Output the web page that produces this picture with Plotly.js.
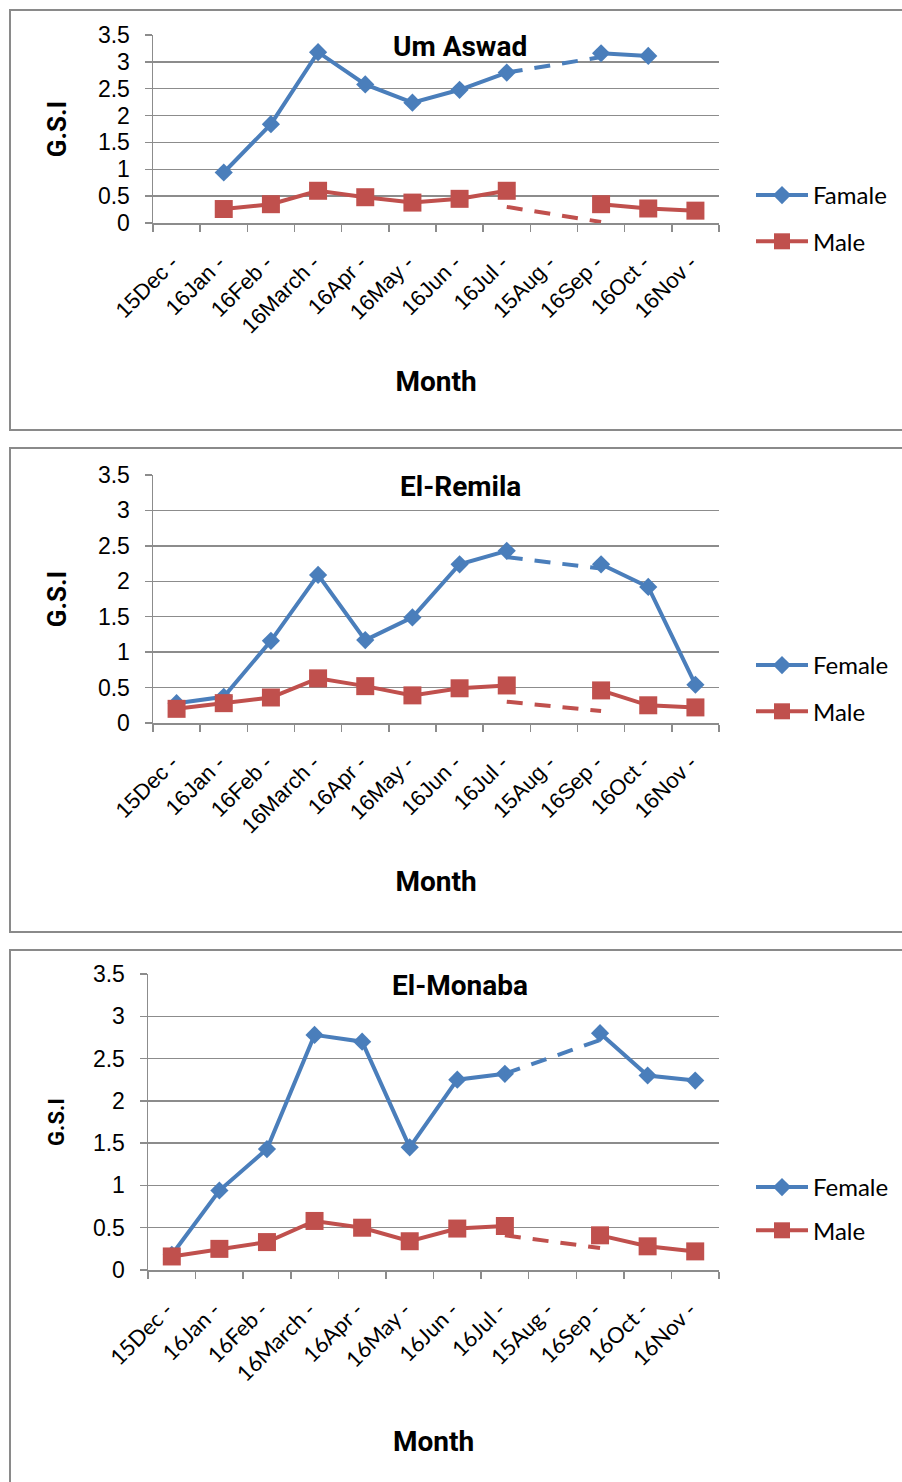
<!DOCTYPE html>
<html>
<head>
<meta charset="utf-8">
<script src="https://cdn.plot.ly/plotly-3.0.1.min.js"></script>
<style>
  html, body { margin:0; padding:0; background:#fff; width:902px; height:1482px; overflow:hidden; position:relative; }
  .box { position:absolute; left:9px; width:1000px; border:2px solid #8a8a8a; border-right:none; box-sizing:border-box; }
  .plot { position:absolute; left:0; width:902px; }
</style>
</head>
<body>
<div class="box" style="top:9px;height:422px;"></div>
<div class="box" style="top:447px;height:486px;"></div>
<div class="box" style="top:949px;height:600px;"></div>
<div id="p1" class="plot" style="top:0px;height:440px;"></div>
<div id="p2" class="plot" style="top:440px;height:500px;"></div>
<div id="p3" class="plot" style="top:940px;height:542px;"></div>
<script>
// ---- data ----
const months = ["15Dec -","16Jan -","16Feb -","16March -","16Apr -","16May -","16Jun -","16Jul -","15Aug -","16Sep -","16Oct -","16Nov -"];
const gapMonths = ["16Jul -","16Sep -"];

const titles = ["Um Aswad","El-Remila","El-Monaba"];
const femaleNames = ["Famale","Female","Female"];
const maleName = "Male";

const umAswadFemale = [null, 0.94, 1.84, 3.18, 2.58, 2.24, 2.48, 2.80, null, 3.16, 3.11, null];
const umAswadMale   = [null, 0.26, 0.35, 0.60, 0.48, 0.38, 0.45, 0.60, null, 0.35, 0.27, 0.23];
const umAswadFemaleGap = [2.80, 3.09];
const umAswadMaleGap   = [0.30, 0.02];

const elRemilaFemale = [0.28, 0.37, 1.16, 2.09, 1.17, 1.49, 2.24, 2.43, null, 2.24, 1.92, 0.54];
const elRemilaMale   = [0.20, 0.28, 0.36, 0.63, 0.52, 0.39, 0.49, 0.53, null, 0.46, 0.25, 0.22];
const elRemilaFemaleGap = [2.34, 2.18];
const elRemilaMaleGap   = [0.30, 0.17];

const elMonabaFemale = [0.18, 0.94, 1.43, 2.78, 2.70, 1.45, 2.25, 2.32, null, 2.80, 2.30, 2.24];
const elMonabaMale   = [0.16, 0.25, 0.33, 0.58, 0.50, 0.34, 0.49, 0.52, null, 0.41, 0.28, 0.22];
const elMonabaFemaleGap = [2.32, 2.72];
const elMonabaMaleGap   = [0.41, 0.26];

// ---- style ----
const BLUE = "#4a7ebb";
const RED = "#c0504d";
const GRID = "#8c8c8c";
const BOLDFONT = "Roboto, Arial, sans-serif";

function buildPanel(divId, cfg) {
  const traces = [
    {x: months, y: cfg.female, name: cfg.femaleName, type: "scatter", mode: "lines+markers",
     line: {color: BLUE, width: 4}, marker: {symbol: "diamond", size: 14, color: BLUE},
     connectgaps: false, legendgroup: "f"},
    {x: months, y: cfg.male, name: maleName, type: "scatter", mode: "lines+markers",
     line: {color: RED, width: 4}, marker: {symbol: "square", size: 18, color: RED},
     connectgaps: false, legendgroup: "m"},
    {x: gapMonths, y: cfg.femaleGap, type: "scatter", mode: "lines", showlegend: false,
     line: {color: BLUE, width: 4, dash: "16px,12px"}, hoverinfo: "skip"},
    {x: gapMonths, y: cfg.maleGap, type: "scatter", mode: "lines", showlegend: false,
     line: {color: RED, width: 4, dash: "16px,12px"}, hoverinfo: "skip"}
  ];
  const H = cfg.height;
  const pw = 902 - cfg.l - cfg.r;
  const cx = (460 - cfg.l) / pw;
  const half = cfg.titleHalf / pw;
  const layout = {
    width: 902, height: H,
    margin: {l: cfg.l, r: cfg.r, t: cfg.t, b: cfg.b, pad: 0},
    paper_bgcolor: "rgba(0,0,0,0)", plot_bgcolor: "rgba(0,0,0,0)",
    showlegend: true,
    legend: {
      xref: "container", yref: "container",
      x: 751/902, y: 1 - cfg.legTop/H, xanchor: "left", yanchor: "top",
      font: {family: "Lato, sans-serif", size: 24, color: "#000"},
      bgcolor: "rgba(0,0,0,0)", borderwidth: 0,
      traceorder: "grouped", tracegroupgap: cfg.legGap, itemwidth: 52
    },
    shapes: [{
      type: "rect", xref: "paper", yref: "paper", layer: "between",
      x0: cx - half, x1: cx + half, y0: 0.985, y1: 1.015,
      fillcolor: "#fff", line: {width: 0}
    }],
    annotations: [{
      text: cfg.title, xref: "paper", yref: "paper", x: cx, y: 1,
      xanchor: "center", yanchor: "middle", yshift: -11, showarrow: false,
      font: {family: BOLDFONT, size: 28, color: "#000", weight: "bold"}
    }],
    xaxis: {
      type: "category", categoryorder: "array", categoryarray: months,
      range: [-0.5, 11.5], tickson: "boundaries", ticks: "outside", ticklen: 7,
      tickcolor: GRID, tickwidth: 1.5, showline: true, linecolor: GRID, linewidth: 1.5,
      showgrid: false, zeroline: false, tickangle: -45, automargin: false, fixedrange: true,
      tickfont: {family: cfg.xFont, size: 22, color: "#000"},
      ticklabelstandoff: cfg.xStand, ticklabelshift: -5,
      title: {text: "Month", standoff: cfg.xTitleStand,
              font: {family: BOLDFONT, size: 28, color: "#000", weight: "bold"}}
    },
    yaxis: {
      range: [0, 3.5], tick0: 0, dtick: 0.5, showgrid: true, gridcolor: GRID, gridwidth: 1.5,
      showline: true, linecolor: GRID, linewidth: 1.5, ticks: "outside", ticklen: 7,
      tickcolor: GRID, tickwidth: 1.5, zeroline: false, automargin: false, fixedrange: true,
      tickfont: {family: "Liberation Sans, Arial, sans-serif", size: 23, color: "#000"},
      ticklabelstandoff: 10,
      title: {text: "G.S.I", standoff: cfg.yTitleStand,
              font: {family: BOLDFONT, size: cfg.ySize, color: "#000", weight: "bold"}}
    }
  };
  Plotly.newPlot(divId, traces, layout, {staticPlot: true, displayModeBar: false});
}

buildPanel("p1", {height: 440, l: 153, r: 183, t: 35, b: 217, legTop: 173, legGap: 12, titleHalf: 68,
  title: titles[0], femaleName: femaleNames[0], female: umAswadFemale, male: umAswadMale,
  femaleGap: umAswadFemaleGap, maleGap: umAswadMaleGap,
  xFont: "Liberation Sans, Arial, sans-serif", xStand: 17, xTitleStand: 34,
  ySize: 26, yTitleStand: 24});
buildPanel("p2", {height: 500, l: 153, r: 183, t: 35, b: 217, legTop: 203, legGap: 12, titleHalf: 59,
  title: titles[1], femaleName: femaleNames[1], female: elRemilaFemale, male: elRemilaMale,
  femaleGap: elRemilaFemaleGap, maleGap: elRemilaMaleGap,
  xFont: "Liberation Sans, Arial, sans-serif", xStand: 17, xTitleStand: 34,
  ySize: 26, yTitleStand: 24});
buildPanel("p3", {height: 542, l: 148, r: 183, t: 34, b: 212, legTop: 225, legGap: 9, titleHalf: 68,
  title: titles[2], femaleName: femaleNames[2], female: elMonabaFemale, male: elMonabaMale,
  femaleGap: elMonabaFemaleGap, maleGap: elMonabaMaleGap,
  xFont: "Lato, sans-serif", xStand: 17, xTitleStand: 46,
  ySize: 22, yTitleStand: 22});
</script>
</body>
</html>
